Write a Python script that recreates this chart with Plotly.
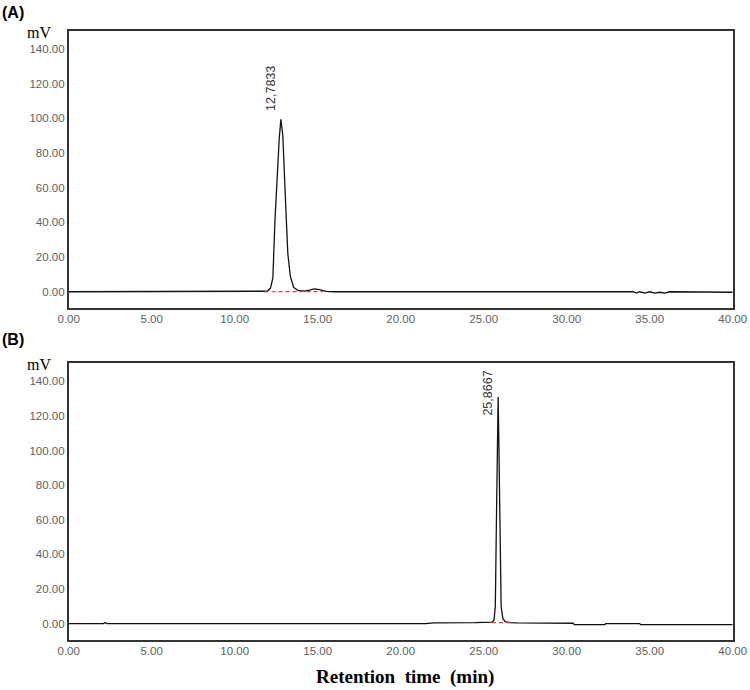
import plotly.graph_objects as go

# ---- data (time in min, signal in mV) ----
time_a = [0.0, 11.6, 11.95, 12.15, 12.3, 12.42, 12.55, 12.68, 12.78, 12.9, 13.05, 13.2, 13.35,
          13.55, 13.8, 14.2, 14.5, 14.8, 15.1, 15.5, 16.0, 34.0, 34.2, 34.4, 34.7, 35.0, 35.3,
          35.6, 35.9, 36.2, 40.0]
mv_a = [0.0, 0.0, 0.3, 2.0, 8.0, 40.0, 65.0, 88.0, 99.5, 90.0, 55.0, 22.0, 9.0,
        2.5, 0.8, 0.4, 1.0, 1.7, 1.2, 0.2, 0.0, 0.0, -0.8, 0.0, -0.8, 0.0, -0.8,
        -0.3, -0.8, 0.0, -0.3]

time_b = [0.0, 2.1, 2.2, 2.3, 21.5, 22.0, 24.5, 25.0, 25.5, 25.62, 25.7, 25.76, 25.82, 25.87,
          25.92, 25.98, 26.05, 26.15, 26.3, 26.6, 27.0, 30.4, 30.45, 32.3, 32.35, 34.4, 34.45, 40.0]
mv_b = [0.0, 0.0, 0.6, 0.0, 0.0, 0.4, 0.5, 0.6, 0.8, 2.0, 10.0, 55.0, 100.0, 131.0,
        100.0, 40.0, 10.0, 3.0, 1.0, 0.6, 0.4, 0.2, -0.6, -0.6, 0.0, 0.0, -0.6, -0.6]

# integration baselines (red dashed)
base_a_t = [11.8, 13.9, 14.1, 15.3]
base_a_mv = [0.0, 0.3, 0.3, 0.1]
base_b_t = [25.5, 26.6]
base_b_mv = [0.6, 0.5]

peaks = [("12,7833", 12.78, "A"), ("25,8667", 25.87, "B")]
x_ticks = [0, 5, 10, 15, 20, 25, 30, 35, 40]
y_ticks = [0, 20, 40, 60, 80, 100, 120, 140]

W, H = 750, 690
fig = go.Figure()

for t, v, ax in [(time_a, mv_a, ""), (time_b, mv_b, "2")]:
    fig.add_trace(go.Scatter(x=t, y=v, mode="lines", xaxis="x" + ax, yaxis="y" + ax,
                             line=dict(color="#111111", width=1.3), showlegend=False))
for t, v, ax in [(base_a_t, base_a_mv, ""), (base_b_t, base_b_mv, "2")]:
    fig.add_trace(go.Scatter(x=t, y=v, mode="lines", xaxis="x" + ax, yaxis="y" + ax,
                             line=dict(color="#d94040", width=1.2, dash="4px,3px"),
                             showlegend=False))

xdom = [68.7 / W, 732.7 / W]
axis_common = dict(showline=True, mirror=True, linecolor="#333333", linewidth=1.5,
                   showgrid=False, zeroline=False, ticks="", tickformat=".2f", automargin=False,
                   tickfont=dict(family="Arial, Liberation Sans", size=11.5, color="#606060"))

fig.update_layout(
    width=W, height=H,
    margin=dict(l=0, r=0, t=0, b=0, pad=0),
    paper_bgcolor="white", plot_bgcolor="white",
    xaxis=dict(domain=xdom, range=[0, 40], tickvals=x_ticks, anchor="y", **axis_common),
    yaxis=dict(domain=[1 - 307.7 / H, 1 - 30.7 / H], range=[-9.2, 150.6], tickvals=y_ticks,
               anchor="x", **axis_common),
    xaxis2=dict(domain=xdom, range=[0, 40], tickvals=x_ticks, anchor="y2", **axis_common),
    yaxis2=dict(domain=[1 - 639.5 / H, 1 - 363 / H], range=[-9.2, 150.6], tickvals=y_ticks,
                anchor="x2", **axis_common),
)

ann = []
# panel letters and units
for lab, ytop in [("(A)", 12), ("(B)", 339)]:
    ann.append(dict(text="<b>%s</b>" % lab, xref="paper", yref="paper", x=0, y=1 - ytop / H,
                    xanchor="left", yanchor="middle", showarrow=False,
                    font=dict(family="Arial, Liberation Sans", size=16, color="black")))
for ymid in [33, 364]:
    ann.append(dict(text="mV", xref="paper", yref="paper", x=53 / W, y=1 - ymid / H,
                    xanchor="right", yanchor="middle", showarrow=False,
                    font=dict(family="Times New Roman, Liberation Serif", size=16, color="black")))
# peak retention time labels
for text, t, p in peaks:
    xr, yr = ("x", "y") if p == "A" else ("x2", "y2")
    ymid = 117.5 if p == "A" else 133
    ann.append(dict(text=text, xref=xr, yref=yr, x=t, y=ymid, xshift=-10, textangle=-90,
                    xanchor="center", yanchor="middle", showarrow=False,
                    font=dict(family="Arial, Liberation Sans", size=12.5, color="#333333")))
ann.append(dict(text="<b>Retention  time  (min)</b>", xref="paper", yref="paper",
                x=405 / W, y=1 - 677 / H, xanchor="center", yanchor="middle", showarrow=False,
                font=dict(family="Times New Roman, Liberation Serif", size=19, color="black")))
fig.update_layout(annotations=ann)

# page has a default body margin; drop it so the figure fills the window
fig.write_html("out.html", config={"displayModeBar": False},
               post_script="document.body.style.margin='0';document.body.style.overflow='hidden';")
